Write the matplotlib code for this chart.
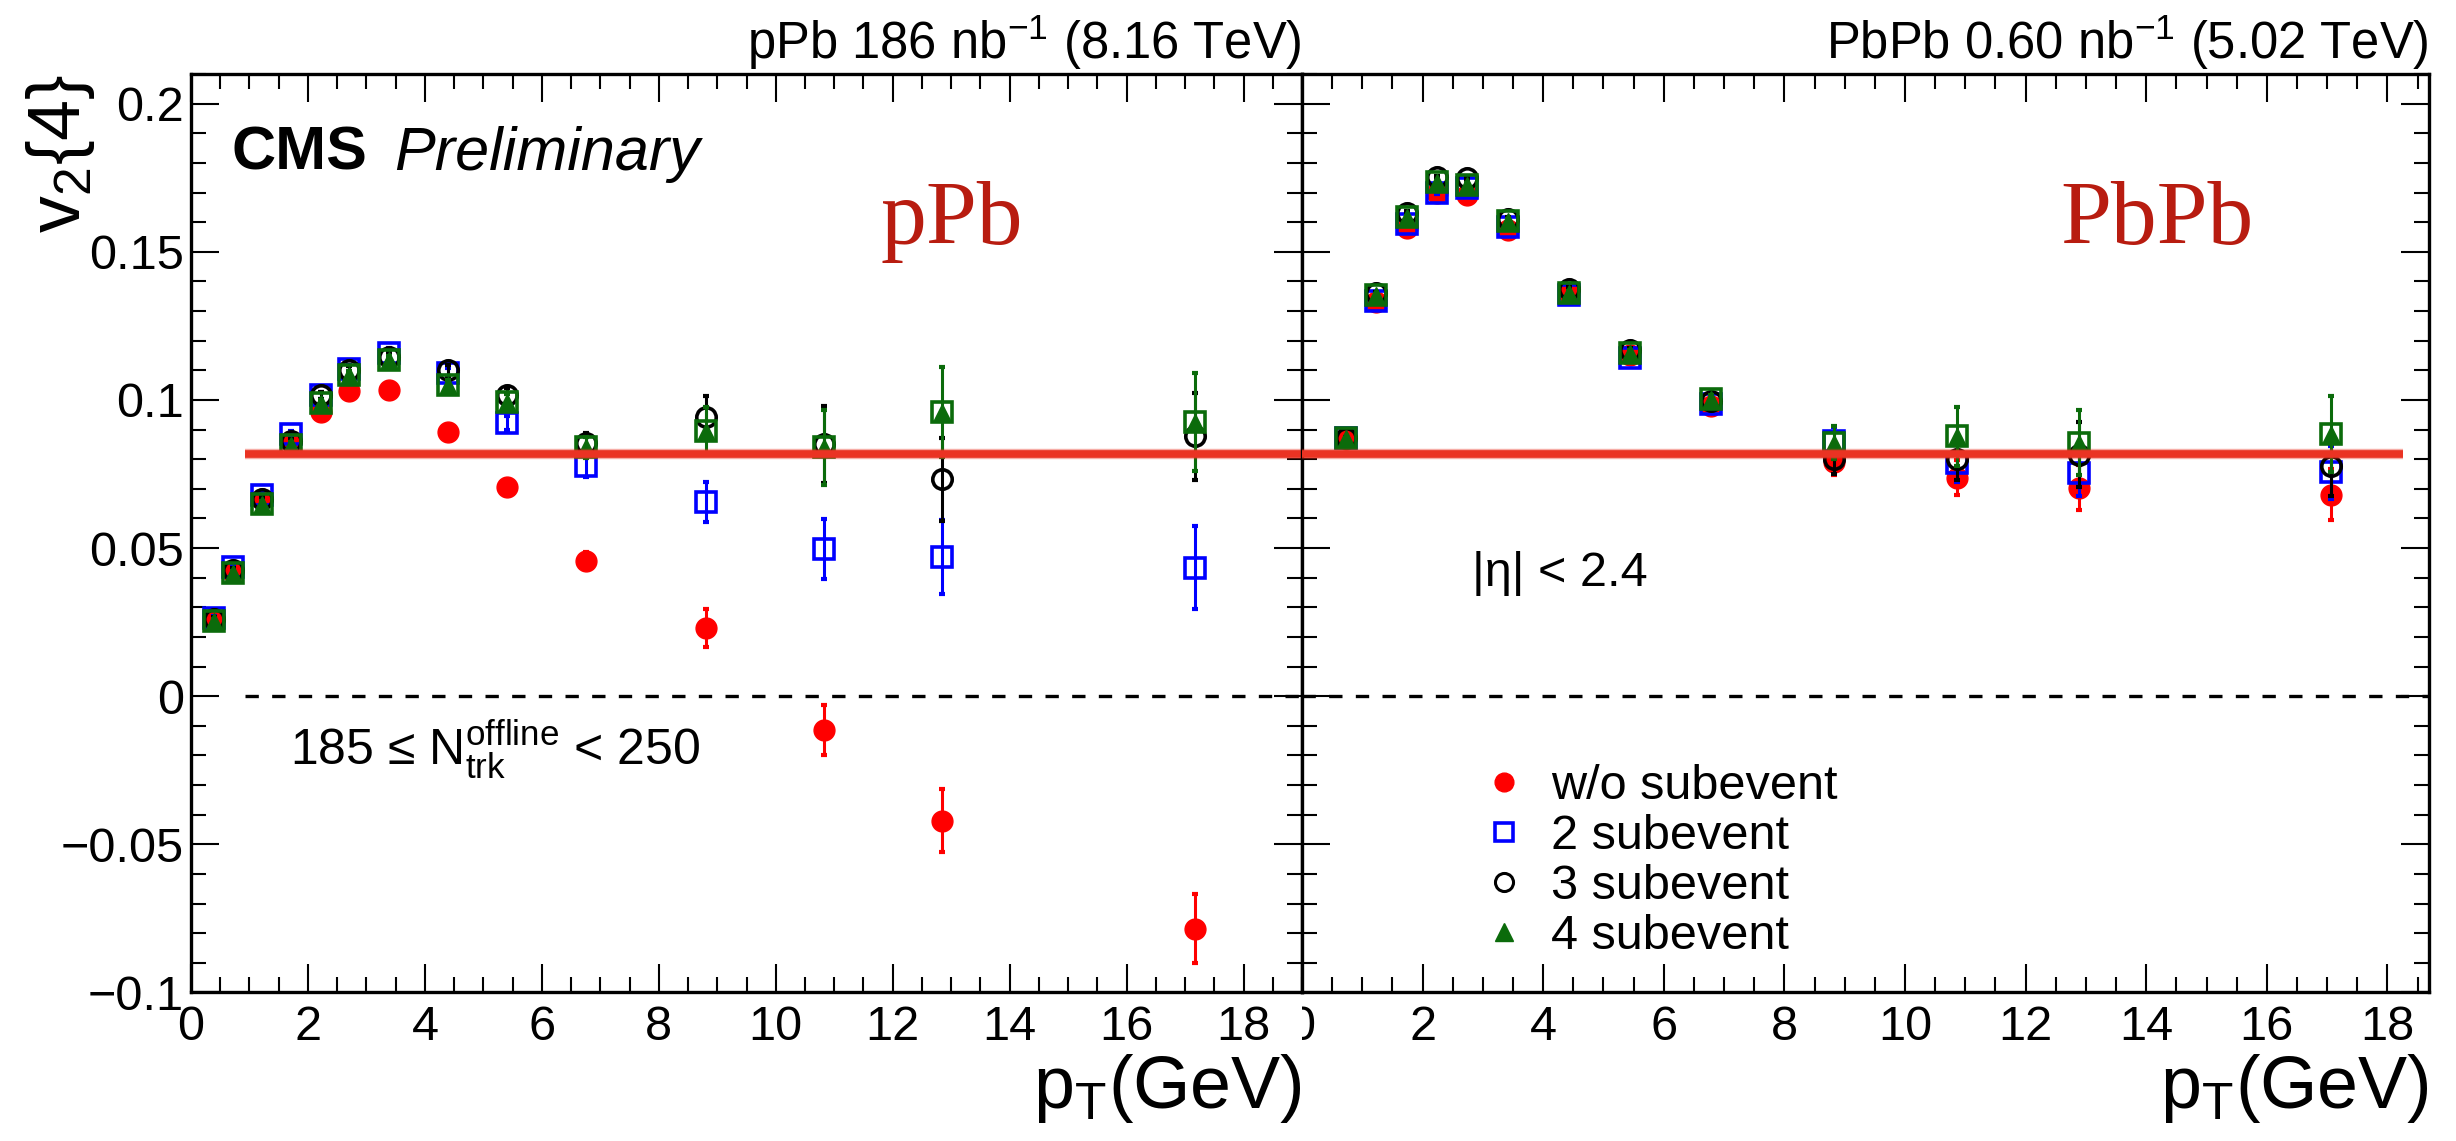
import matplotlib
matplotlib.use("Agg")
import matplotlib.pyplot as plt
from matplotlib.lines import Line2D
from matplotlib.ticker import MultipleLocator, FixedLocator
from matplotlib.transforms import Bbox, TransformedBbox

plt.rcParams['font.family'] = ['Liberation Sans', 'DejaVu Sans']
plt.rcParams['mathtext.fontset'] = 'custom'
plt.rcParams['mathtext.rm'] = 'Liberation Sans'
plt.rcParams['mathtext.it'] = 'Liberation Sans:italic'
plt.rcParams['mathtext.bf'] = 'Liberation Sans:bold'

# ---------------- data ----------------
# pPb, 185 <= Ntrk < 250
pPb_pt = [0.39, 0.71, 1.21, 1.71, 2.22, 2.71, 3.39, 4.40, 5.41, 6.75, 8.80, 10.83, 12.85, 17.17]
pPb_nosub = [0.0260, 0.0420, 0.0665, 0.0860, 0.0958, 0.1030, 0.1032, 0.0892, 0.0705, 0.0458, 0.0231, -0.0113, -0.0420, -0.0785]
pPb_nosub_err = [0.0005, 0.0006, 0.0007, 0.0008, 0.0010, 0.0011, 0.0012, 0.0015, 0.0020, 0.0028, 0.0065, 0.0085, 0.0107, 0.0117]
pPb_2sub = [0.0265, 0.0435, 0.0680, 0.0885, 0.1015, 0.1105, 0.1160, 0.1090, 0.0922, 0.0776, 0.0655, 0.0498, 0.0470, 0.0434]
pPb_2sub_err = [0.0006, 0.0007, 0.0008, 0.0009, 0.0011, 0.0013, 0.0014, 0.0018, 0.0025, 0.0035, 0.0067, 0.0101, 0.0124, 0.0139]
pPb_3sub = [0.0262, 0.0425, 0.0665, 0.0860, 0.1015, 0.1100, 0.1145, 0.1100, 0.1015, 0.0855, 0.0943, 0.0851, 0.0733, 0.0877]
pPb_3sub_err = [0.0006, 0.0007, 0.0008, 0.0009, 0.0011, 0.0013, 0.0014, 0.0018, 0.0025, 0.0035, 0.0070, 0.0130, 0.0140, 0.0148]
pPb_4sub = [0.0255, 0.0415, 0.0650, 0.0848, 0.0990, 0.1083, 0.1135, 0.1050, 0.0994, 0.0840, 0.0896, 0.0840, 0.0958, 0.0925]
pPb_4sub_err = [0.0006, 0.0007, 0.0008, 0.0009, 0.0011, 0.0013, 0.0014, 0.0018, 0.0025, 0.0035, 0.0080, 0.0126, 0.0152, 0.0165]

# PbPb
PbPb_pt = [0.73, 1.23, 1.74, 2.24, 2.74, 3.41, 4.43, 5.44, 6.78, 8.83, 10.87, 12.88, 17.06]
PbPb_nosub = [0.0868, 0.1330, 0.1580, 0.1697, 0.1690, 0.1575, 0.1362, 0.1150, 0.0980, 0.0790, 0.0738, 0.0704, 0.0680]
PbPb_nosub_err = [0.0003, 0.0003, 0.0004, 0.0004, 0.0005, 0.0005, 0.0006, 0.0008, 0.0012, 0.0045, 0.0060, 0.0077, 0.0086]
PbPb_2sub = [0.0870, 0.1335, 0.1595, 0.1700, 0.1715, 0.1585, 0.1355, 0.1142, 0.0985, 0.0860, 0.0788, 0.0755, 0.0756]
PbPb_2sub_err = [0.0003, 0.0003, 0.0004, 0.0004, 0.0005, 0.0005, 0.0006, 0.0008, 0.0012, 0.0050, 0.0065, 0.0080, 0.0090]
PbPb_3sub = [0.0872, 0.1362, 0.1632, 0.1752, 0.1748, 0.1612, 0.1375, 0.1168, 0.0998, 0.0799, 0.0800, 0.0815, 0.0776]
PbPb_3sub_err = [0.0003, 0.0003, 0.0004, 0.0004, 0.0005, 0.0005, 0.0006, 0.0008, 0.0012, 0.0050, 0.0070, 0.0110, 0.0100]
PbPb_4sub = [0.0870, 0.1355, 0.1618, 0.1736, 0.1727, 0.1605, 0.1360, 0.1160, 0.1003, 0.0855, 0.0877, 0.0855, 0.0886]
PbPb_4sub_err = [0.0003, 0.0003, 0.0004, 0.0004, 0.0005, 0.0005, 0.0006, 0.0008, 0.0012, 0.0056, 0.0100, 0.0110, 0.0128]

# red reference band
band_level = 0.0818
pPb_band_range = [0.92, 19.0]
PbPb_band_range = [0.0, 18.26]

labels = ["w/o subevent", "2 subevent", "3 subevent", "4 subevent"]
xticks = [0, 2, 4, 6, 8, 10, 12, 14, 16, 18]
yticks = [-0.1, -0.05, 0.0, 0.05, 0.1, 0.15, 0.2]
yticklabels = ["\u22120.1", "\u22120.05", "0", "0.05", "0.1", "0.15", "0.2"]

RED = '#ff0000'
BLUE = '#0000ff'
BLACK = '#000000'
GREEN = '#0b6b0b'
BAND = '#ea3323'
LABEL_RED = '#b81c10'

fig = plt.figure(figsize=(24.56, 11.41), dpi=100)
ax1 = fig.add_axes([0.07777, 0.13015, 0.45236, 0.805])
ax2 = fig.add_axes([0.53013, 0.13015, 0.45888, 0.805])


def draw_series(ax, pt, vals, errs, color, kind, z):
    ax.errorbar(pt, vals, yerr=errs, fmt='none', ecolor=color, elinewidth=2.2,
                capsize=2.5, capthick=3, zorder=z)
    if kind == 'nosub':
        ax.plot(pt, vals, ls='none', marker='o', ms=15, mfc=color, mec=color, zorder=z + 0.5)
    elif kind == '2sub':
        ax.plot(pt, vals, ls='none', marker='s', ms=15, mfc='none', mec=color, mew=2.6, zorder=z + 0.5)
    elif kind == '3sub':
        ax.plot(pt, vals, ls='none', marker='o', ms=14, mfc='none', mec=color, mew=2.6, zorder=z + 0.5)
    else:
        ax.plot(pt, vals, ls='none', marker='s', ms=15, mfc='none', mec=color, mew=2.6, zorder=z + 0.4)
        ax.plot(pt, vals, ls='none', marker='^', ms=11, mfc=color, mec=color, zorder=z + 0.5)


def style_axes(ax, xmax):
    ax.set_xlim(0, xmax)
    ax.set_ylim(-0.1, 0.21)
    ax.xaxis.set_major_locator(FixedLocator(xticks))
    ax.xaxis.set_minor_locator(MultipleLocator(0.5))
    ax.yaxis.set_major_locator(FixedLocator(yticks))
    ax.yaxis.set_minor_locator(MultipleLocator(0.01))
    ax.set_xticklabels([str(t) for t in xticks])
    ax.tick_params(which='both', direction='in', top=True, right=True, labelsize=35)
    ax.tick_params(which='major', length=20, width=1.5)
    ax.tick_params(which='minor', length=10.5, width=1.5)
    ax.tick_params(axis='x', pad=9)
    ax.tick_params(axis='y', pad=5)
    for s in ax.spines.values():
        s.set_linewidth(2.4)


def draw_band(ax, xr):
    ax.plot(xr, [band_level, band_level], color=BAND, lw=5.5, solid_capstyle='butt', zorder=8)
    ax.plot(xr, [band_level, band_level], color=BAND, lw=7.5, alpha=0.4, solid_capstyle='butt', zorder=8)


# ---- left panel: pPb ----
draw_series(ax1, pPb_pt, pPb_nosub, pPb_nosub_err, RED, 'nosub', 3)
draw_series(ax1, pPb_pt, pPb_2sub, pPb_2sub_err, BLUE, '2sub', 4)
draw_series(ax1, pPb_pt, pPb_3sub, pPb_3sub_err, BLACK, '3sub', 5)
draw_series(ax1, pPb_pt, pPb_4sub, pPb_4sub_err, GREEN, '4sub', 6)
draw_band(ax1, pPb_band_range)
ax1.plot([pPb_band_range[0], 19.0], [0, 0], color='black', lw=2.4, ls=(0, (4, 4)), zorder=2)
style_axes(ax1, 19.0)
ax1.set_yticklabels(yticklabels)

# ---- right panel: PbPb ----
draw_series(ax2, PbPb_pt, PbPb_nosub, PbPb_nosub_err, RED, 'nosub', 3)
draw_series(ax2, PbPb_pt, PbPb_2sub, PbPb_2sub_err, BLUE, '2sub', 4)
draw_series(ax2, PbPb_pt, PbPb_3sub, PbPb_3sub_err, BLACK, '3sub', 5)
draw_series(ax2, PbPb_pt, PbPb_4sub, PbPb_4sub_err, GREEN, '4sub', 6)
draw_band(ax2, PbPb_band_range)
ax2.axhline(0, color='black', lw=2.4, ls=(0, (4, 4)), zorder=2)
style_axes(ax2, 18.69)
ax2.tick_params(labelleft=False)

# right panel "0" is half hidden behind the left pad
lbl0 = ax2.xaxis.get_major_ticks()[0].label1
lbl0.set_clip_on(True)
lbl0.set_clip_box(TransformedBbox(Bbox([[0.5301, 0.0], [1.0, 1.0]]), fig.transFigure))

# ---- texts ----
ax1.text(1.0, 1.016, "pPb 186 nb$^{-1}$ (8.16 TeV)", transform=ax1.transAxes,
         ha='right', va='baseline', fontsize=36.5)
ax2.text(1.0, 1.016, "PbPb 0.60 nb$^{-1}$ (5.02 TeV)", transform=ax2.transAxes,
         ha='right', va='baseline', fontsize=36.5)

ax1.text(0.70, 0.1776, "CMS", fontsize=44, fontweight='bold', va='baseline')
ax1.text(3.47, 0.1776, "Preliminary", fontsize=44, style='italic', va='baseline')
ax1.text(11.8, 0.1525, "pPb", fontsize=66, family='Liberation Serif', color=LABEL_RED, va='baseline')
ax2.text(12.57, 0.1525, "PbPb", fontsize=66, family='Liberation Serif', color=LABEL_RED, va='baseline')
ax1.text(1.69, -0.0236, "185 \u2264 N$_{\\mathrm{trk}}^{\\mathrm{offline}}$ < 250", fontsize=36, va='baseline')
ax2.text(2.82, 0.0371, "|\u03b7| < 2.4", fontsize=35, va='baseline')

fig.text(0.0245, 0.935, "v$_{2}${4}", fontsize=53, rotation=90, ha='center', va='top')
fig.text(1302 / 2456, 1 - 1108 / 1141, "p$_{\\mathrm{T}}$(GeV)", fontsize=53, ha='right', va='baseline')
fig.text(2429 / 2456, 1 - 1108 / 1141, "p$_{\\mathrm{T}}$(GeV)", fontsize=53, ha='right', va='baseline')

# ---- legend ----
handles = [
    Line2D([], [], ls='none', marker='o', ms=13.5, mfc=RED, mec=RED),
    Line2D([], [], ls='none', marker='s', ms=13.5, mfc='none', mec=BLUE, mew=2.6),
    Line2D([], [], ls='none', marker='o', ms=13, mfc='none', mec=BLACK, mew=2.2),
    Line2D([], [], ls='none', marker='^', ms=13, mfc=GREEN, mec=GREEN),
]
ax2.legend(handles, labels, loc='upper left', bbox_to_anchor=(0.1575, 0.2488), frameon=False,
           fontsize=35, handlelength=1.0, handletextpad=0.47, labelspacing=0.1,
           borderpad=0, borderaxespad=0)

fig.savefig("out.png", dpi=100)
